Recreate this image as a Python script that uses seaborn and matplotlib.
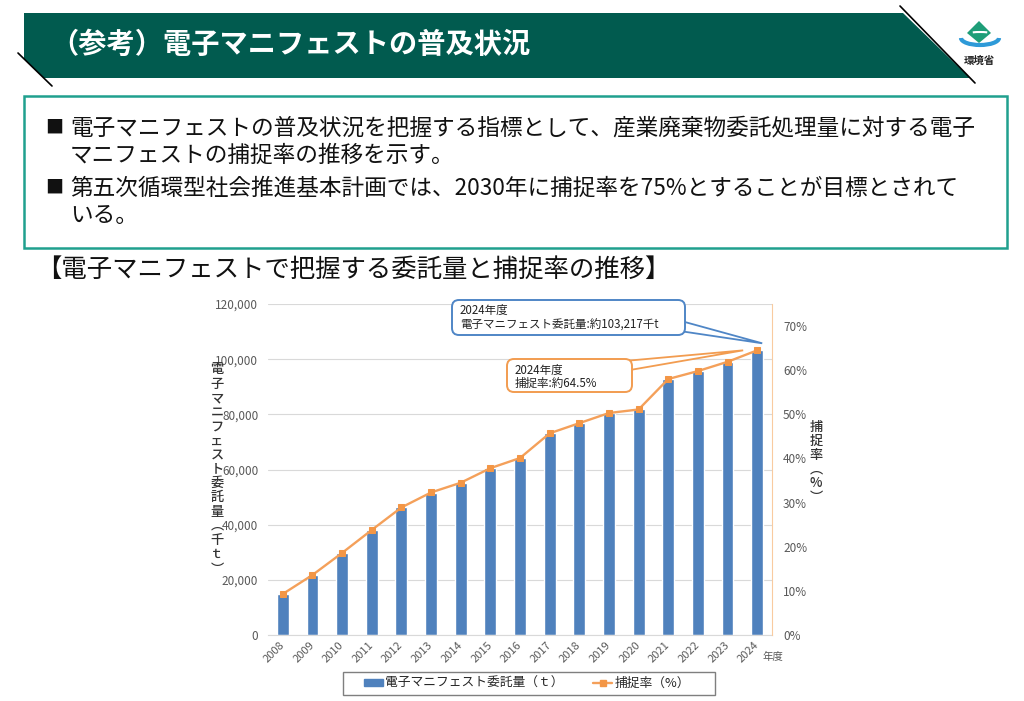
import numpy as np
import matplotlib
matplotlib.use("Agg")
import matplotlib.pyplot as plt
import seaborn as sns
from matplotlib.patches import Polygon, Rectangle, FancyBboxPatch, Patch, Arc
from matplotlib.lines import Line2D
from matplotlib.ticker import FuncFormatter

# ---------------- data ----------------
years = ["2008", "2009", "2010", "2011", "2012", "2013", "2014", "2015", "2016",
         "2017", "2018", "2019", "2020", "2021", "2022", "2023", "2024"]
amounts = [14800, 21800, 29800, 38100, 46300, 51600, 55200, 60400, 64100,
           73100, 76800, 80400, 81800, 92800, 95700, 99100, 103217]   # 千t
rates = [9.3, 13.6, 18.6, 23.8, 28.9, 32.3, 34.5, 37.8, 40.1,
         45.7, 48.0, 50.3, 51.1, 58.0, 59.8, 61.9, 64.5]              # %
left_ticks = [0, 20000, 40000, 60000, 80000, 100000, 120000]
right_ticks = [0, 10, 20, 30, 40, 50, 60, 70]

title = "（参考）電子マニフェストの普及状況"
bullets = [
    ["電子マニフェストの普及状況を把握する指標として、産業廃棄物委託処理量に対する電子",
     "マニフェストの捕捉率の推移を示す。"],
    ["第五次循環型社会推進基本計画では、2030年に捕捉率を75%とすることが目標とされて",
     "いる。"],
]
subtitle = "【電子マニフェストで把握する委託量と捕捉率の推移】"
ylabel_left = "電子マニフェスト委託量︵千ｔ︶"
ylabel_right = "捕捉率︵%︶"
legend_labels = ["電子マニフェスト委託量（ｔ）", "捕捉率（%）"]

# ---------------- style ----------------
sns.set_style("white")
plt.rcParams["font.family"] = ["Noto Sans CJK JP", "DejaVu Sans"]

W, H = 1024, 701
fig = plt.figure(figsize=(W / 100, H / 100), dpi=100)

BAR = "#4f81bd"
LINE = "#f4a05a"
MARK = "#f39646"
GRAY = "#595959"

# ---------------- chart ----------------
ax = fig.add_axes([268 / W, 1 - 635 / H, 504 / W, 331 / H])
sns.barplot(x=years, y=amounts, color=BAR, saturation=1, width=0.4, ax=ax)
ax.set_xlim(-0.5, len(years) - 0.5)
ax.set_ylim(0, 120000)
ax.set_yticks(left_ticks)
ax.yaxis.set_major_formatter(FuncFormatter(lambda v, p: f"{int(v):,}"))
ax.yaxis.grid(True, color="#d9d9d9", lw=0.8)
ax.set_axisbelow(True)
ax.set_xlabel("")
ax.set_ylabel("")
for s in ["left", "top", "right"]:
    ax.spines[s].set_visible(False)
ax.spines["bottom"].set_color("#d9d9d9")
ax.tick_params(axis="y", length=0, pad=7, labelsize=8.5, labelcolor=GRAY)
ax.tick_params(axis="x", length=0, pad=6, labelsize=8, labelcolor=GRAY)
for lab in ax.get_xticklabels():
    lab.set_rotation(45)
    lab.set_ha("right")
    lab.set_va("center")
    lab.set_rotation_mode("anchor")

ax2 = ax.twinx()
sns.lineplot(x=np.arange(len(years)), y=rates, ax=ax2, color=LINE, lw=1.7,
             marker="s", markersize=5, markeredgecolor=MARK, markerfacecolor=MARK)
ax2.set_xlim(-0.5, len(years) - 0.5)
ax2.set_ylim(0, 75)
ax2.set_yticks(right_ticks)
ax2.set_yticklabels([f"{v}%" for v in right_ticks])
ax2.set_ylabel("")
for s in ["left", "top", "bottom"]:
    ax2.spines[s].set_visible(False)
ax2.spines["right"].set_color("#f9cba0")
ax2.tick_params(axis="y", length=0, pad=8, labelsize=8.5, labelcolor=GRAY)

fig.text(217 / W, 1 - 469 / H, "\n".join(ylabel_left), ha="center", va="center",
         fontsize=9.5, color="#333333", linespacing=1.02, fontweight="medium")
fig.text(816 / W, 1 - 462 / H, "\n".join(ylabel_right), ha="center", va="center",
         fontsize=9.5, color="#333333", linespacing=1.0, fontweight="medium")
fig.text(773 / W, 1 - 657 / H, "年度", ha="center", va="center", fontsize=7.5, color=GRAY)

handles = [Patch(facecolor=BAR, edgecolor=BAR),
           Line2D([], [], color=LINE, lw=1.7, marker="s", markersize=5,
                  markerfacecolor=MARK, markeredgecolor=MARK)]
leg = fig.legend(handles, legend_labels, loc="center", ncol=2,
                 bbox_to_anchor=(527 / W, 1 - 683.5 / H), fontsize=9.2,
                 frameon=False, handlelength=1.5, handleheight=0.45,
                 handletextpad=0.2, columnspacing=2.3)
for t in leg.get_texts():
    t.set_color("#262626")

# ---------------- overlay (pixel coordinates) ----------------
ov = fig.add_axes([0, 0, 1, 1], zorder=10)
ov.set_xlim(0, W)
ov.set_ylim(H, 0)
ov.axis("off")
ov.patch.set_alpha(0)

# legend frame
ov.add_patch(Rectangle((343, 672), 372, 23, facecolor="none",
                       edgecolor="#7f7f7f", lw=1.0))

# header banner
ov.add_patch(Polygon([(24, 13), (903, 13), (970, 78), (44, 78), (24, 59)],
                     closed=True, facecolor="#015b4f", edgecolor="none"))
ov.plot([900, 975], [6, 83], color="black", lw=1.2)
ov.plot([18, 52], [53, 86], color="black", lw=1.2)
ov.text(50, 45, title, color="white", fontsize=20.3, fontweight="bold",
        ha="left", va="center")

# logo
ov.add_patch(Polygon([(979, 21), (991, 33), (979, 43), (967, 33)],
                     closed=True, facecolor="#1e9e78", edgecolor="none"))
ov.add_patch(Arc((980, 38), 38, 14, theta1=0, theta2=180, color="#2e9ad8", lw=3))
ov.add_patch(Arc((980, 35), 30, 6, theta1=200, theta2=340, color="white", lw=1.5))
ov.text(979, 61, "環境省", fontsize=7.5, color="#222222", ha="center", va="center",
        fontweight="bold")

# text box
ov.add_patch(Rectangle((24, 96), 983, 152, facecolor="white",
                       edgecolor="#20a08e", lw=1.8))
line_y = [[128, 155], [188, 215]]
for blines, ys in zip(bullets, line_y):
    ov.text(45, ys[0], "■", fontsize=13, ha="left", va="center", color="#111111")
    for txt, yy in zip(blines, ys):
        ov.text(70, yy, txt, fontsize=16.3, ha="left", va="center", color="#111111")

ov.text(36, 270, subtitle, fontsize=18.3, ha="left", va="center", color="#111111")

# callouts (tips derived from data positions)
fig.canvas.draw()
def to_px(axis, x, y):
    dx, dy = axis.transData.transform((x, y))
    return dx, H - dy

bx, by = to_px(ax, len(years) - 1 + 0.17, amounts[-1])
blue_tip = (bx, by - 7)
ox, oy = to_px(ax2, len(years) - 1, rates[-1])
orange_tip = (ox - 14, oy)

BLUE_E = "#4f86c6"
ORNG_E = "#f29c50"
ov.add_patch(Polygon([(683, 321.5), blue_tip, (683, 331.5)], closed=True,
                     facecolor="white", edgecolor=BLUE_E, lw=1.3))
ov.add_patch(FancyBboxPatch((452, 300), 233, 35,
                            boxstyle="round,pad=0,rounding_size=7",
                            facecolor="white", edgecolor=BLUE_E, lw=1.4))
ov.text(460, 310.5, f"{years[-1]}年度", fontsize=8.3, ha="left", va="center", color="#222222")
ov.text(460, 325.5, f"電子マニフェスト委託量:約{amounts[-1]:,}千t", fontsize=8.3,
        ha="left", va="center", color="#222222")

ov.add_patch(Polygon([(630, 360.5), orange_tip, (630, 370)], closed=True,
                     facecolor="white", edgecolor=ORNG_E, lw=1.3))
ov.add_patch(FancyBboxPatch((507, 359), 125, 33,
                            boxstyle="round,pad=0,rounding_size=7",
                            facecolor="white", edgecolor=ORNG_E, lw=1.4))
ov.text(515, 370, f"{years[-1]}年度", fontsize=8.3, ha="left", va="center", color="#222222")
ov.text(515, 383, f"捕捉率:約{rates[-1]}%", fontsize=8.3, ha="left", va="center", color="#222222")

fig.savefig("out.png", dpi=100)
